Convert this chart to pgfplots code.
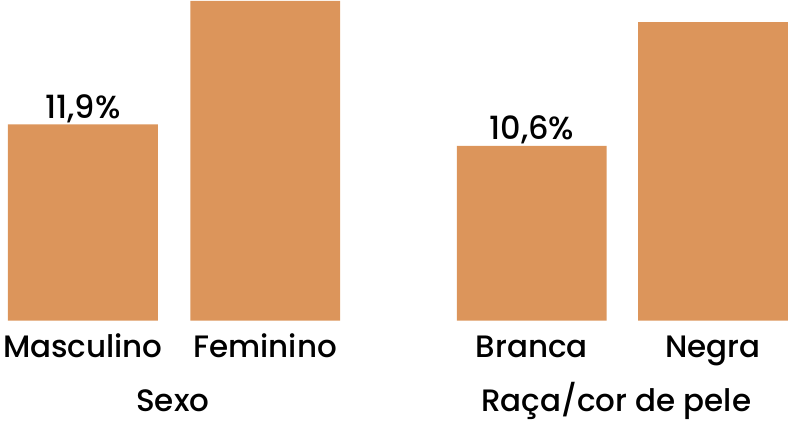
\documentclass[border=0pt]{standalone}
\usepackage{fontspec}
\setmainfont{Poppins}[UprightFont=* Medium]
\usepackage{pgfplots}
\pgfplotsset{compat=1.18}
\definecolor{barc}{HTML}{DC955B}
\begin{document}
\begin{tikzpicture}
\begin{axis}[
  at={(0,0)}, anchor=south west,
  scale only axis, width=788pt, height=321pt,
  xmin=0, xmax=788, ymin=0, ymax=19.45,
  axis line style={draw=none}, tick style={draw=none},
  ytick=\empty,
  xtick={83,265.5,532.5,714},
  xticklabels={Masculino,Feminino,Branca,Negra},
  xticklabel style={anchor=base, yshift=-37pt, inner sep=0pt, font=\fontsize{31}{36}\selectfont},
  clip=false,
]
\addplot[ybar, bar width=150, bar shift=0pt, fill=barc, draw=none,
  point meta=explicit symbolic,
  nodes near coords,
  nodes near coords style={anchor=base, yshift=6pt, inner sep=0pt, font=\fontsize{32}{36}\selectfont, text=black}]
  coordinates {(83,11.9) [11,9\%] (532.5,10.6) [10,6\%]};
\addplot[ybar, bar width=150, bar shift=0pt, fill=barc, draw=none]
  coordinates {(265.5,19.4) (714,18.1)};
\node[anchor=base, inner sep=0pt, font=\fontsize{31}{36}\selectfont] at (axis cs:173,0) [yshift=-91pt] {Sexo};
\node[anchor=base, inner sep=0pt, font=\fontsize{31}{36}\selectfont] at (axis cs:617,0) [yshift=-91pt] {Raça/cor de pele};
\end{axis}
\useasboundingbox (0,-101pt) rectangle (788pt,321pt);
\end{tikzpicture}
\end{document}
